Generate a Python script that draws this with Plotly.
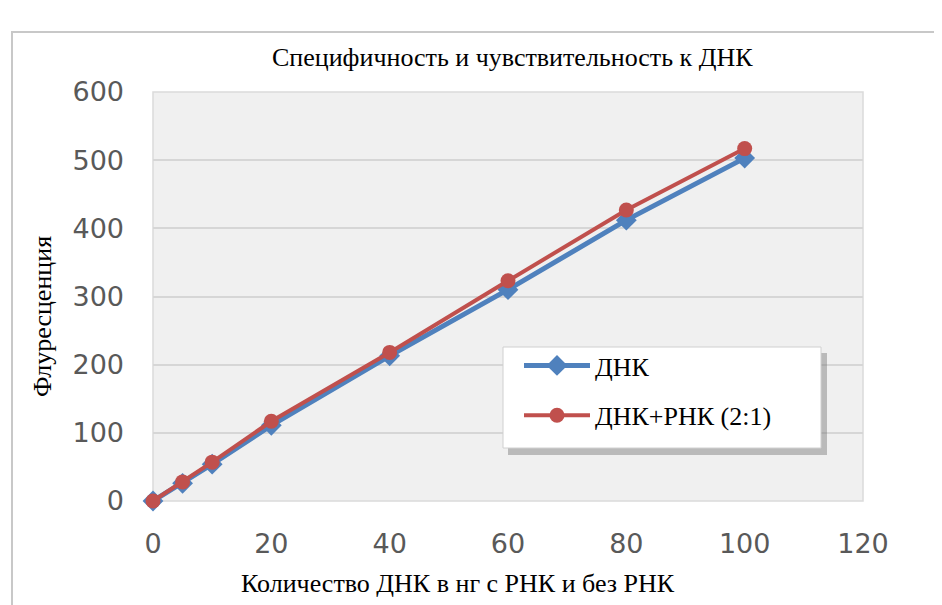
import plotly.graph_objects as go

x_vals = [0, 5, 10, 20, 40, 60, 80, 100]
dna = [0, 26, 54, 111, 213, 310, 412, 503]
dna_rna = [0, 28, 57, 117, 218, 323, 427, 517]
series_names = ["ДНК", "ДНК+РНК (2:1)"]
x_ticks = [0, 20, 40, 60, 80, 100, 120]
y_ticks = [0, 100, 200, 300, 400, 500, 600]

OFF = 8  # page body margin
W, H = 942 - OFF, 605 - OFF
L, R, T, B = 153, 863, 92, 501  # reference pixel coords of plot area
pw, ph = R - L, B - T

def px(xp):
    return (xp - L) / pw

def py(yp):
    return (B - yp) / ph

fig = go.Figure()
fig.add_trace(go.Scatter(
    x=x_vals, y=dna, name=series_names[0], mode="lines+markers",
    legendgroup="a",
    line=dict(color="#4f81bd", width=5),
    marker=dict(symbol="diamond", size=16, color="#4f81bd"),
    cliponaxis=False,
))
fig.add_trace(go.Scatter(
    x=x_vals, y=dna_rna, name=series_names[1], mode="lines+markers",
    legendgroup="b",
    line=dict(color="#c0504d", width=4),
    marker=dict(symbol="circle", size=15, color="#c0504d"),
    cliponaxis=False,
))

serif = "Liberation Serif, Times New Roman, serif"
tickfont = dict(family="DejaVu Sans, sans-serif", size=27, color="#595959")

shapes = [
    dict(type="rect", xref="paper", yref="paper", x0=px(12), x1=px(960), y0=py(32), y1=py(640),
         line=dict(color="#c8c8c8", width=2), fillcolor="rgba(0,0,0,0)", layer="below"),
    dict(type="rect", xref="paper", yref="paper", x0=0, x1=1, y0=0, y1=1,
         line=dict(color="#dadada", width=1.5), fillcolor="rgba(0,0,0,0)", layer="below"),
    dict(type="rect", xref="paper", yref="paper", x0=px(508), x1=px(827), y0=py(353), y1=py(455),
         line=dict(width=0), fillcolor="rgba(120,120,120,0.45)", layer="above"),
    dict(type="rect", xref="paper", yref="paper", x0=px(503), x1=px(821), y0=py(347), y1=py(448),
         line=dict(color="#d0d0d0", width=1), fillcolor="white", layer="above"),
]

annotations = [
    dict(text="Специфичность и чувствительность к ДНК", xref="paper", yref="paper",
         x=px(512), y=py(58), showarrow=False, xanchor="center", yanchor="middle",
         font=dict(family=serif, size=26, color="#000")),
    dict(text="Количество ДНК в нг с РНК и без РНК", xref="paper", yref="paper",
         x=px(458), y=py(583), showarrow=False, xanchor="center", yanchor="middle",
         font=dict(family=serif, size=26, color="#000")),
    dict(text="Флуресценция", xref="paper", yref="paper", textangle=-90,
         x=px(42), y=py(316), showarrow=False, xanchor="center", yanchor="middle",
         font=dict(family=serif, size=26, color="#000")),
]

fig.update_layout(
    width=W, height=H,
    margin=dict(l=L - OFF, r=W - (R - OFF), t=T - OFF, b=H - (B - OFF), pad=0),
    paper_bgcolor="white",
    plot_bgcolor="#f0f0f0",
    showlegend=True,
    legend=dict(x=px(519), y=py(342), xanchor="left", yanchor="top",
                bgcolor="rgba(0,0,0,0)", borderwidth=0,
                font=dict(family=serif, size=26, color="#000"),
                itemwidth=66, traceorder="grouped", tracegroupgap=13),
    shapes=shapes,
    annotations=annotations,
    xaxis=dict(range=[0, 120], tickvals=x_ticks, ticktext=[str(v) for v in x_ticks],
               showgrid=False, zeroline=False, showline=False, ticks="",
               tickfont=tickfont, ticklabelstandoff=24),
    yaxis=dict(range=[0, 600], tickvals=y_ticks, ticktext=[str(v) for v in y_ticks],
               showgrid=True, gridcolor="#d6d6d6", gridwidth=1.5,
               zeroline=False, showline=False, ticks="",
               tickfont=tickfont, ticklabelstandoff=28),
)

fig.write_html("out.html")
